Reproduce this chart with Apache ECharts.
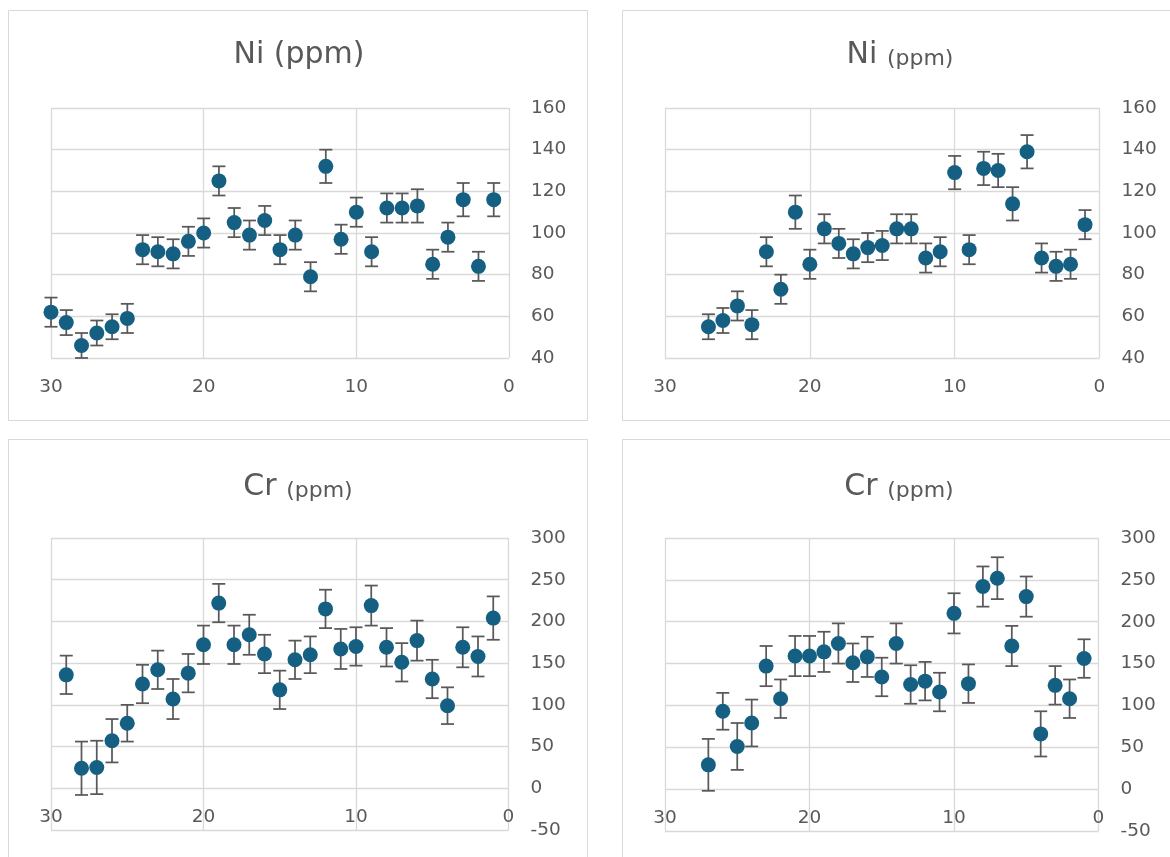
<!DOCTYPE html>
<html><head><meta charset="utf-8">
<script src="https://cdn.jsdelivr.net/npm/echarts@6/dist/echarts.min.js"></script>
<style>html,body{margin:0;padding:0;background:#fff}#c{width:1170px;height:857px}</style>
</head><body><div id="c"></div>
<script>
// ---- data ----
const depthTicks = [30, 20, 10, 0];
const niYTicks = [40, 60, 80, 100, 120, 140, 160];
const crYTicks = [-50, 0, 50, 100, 150, 200, 250, 300];

const niA_depth = [30,29,28,27,26,25,24,23,22,21,20,19,18,17,16,15,14,13,12,11,10,9,8,7,6,5,4,3,2,1];
const niA_value = [62,57,46,52,55,59,92,91,90,96,100,125,105,99,106,92,99,79,132,97,110,91,112,112,113,85,98,116,84,116];
const niA_error = [7,6,6,6,6,7,7,7,7,7,7,7,7,7,7,7,7,7,8,7,7,7,7,7,8,7,7,8,7,8];

const niB_depth = [27,26,25,24,23,22,21,20,19,18,17,16,15,14,13,12,11,10,9,8,7,6,5,4,3,2,1];
const niB_value = [55,58,65,56,91,73,110,85,102,95,90,93,94,102,102,88,91,129,92,131,130,114,139,88,84,85,104];
const niB_error = [6,6,7,7,7,7,8,7,7,7,7,7,7,7,7,7,7,8,7,8,8,8,8,7,7,7,7];

const crA_depth = [29,28,27,26,25,24,23,22,21,20,19,18,17,16,15,14,13,12,11,10,9,8,7,6,5,4,3,2,1];
const crA_value = [136,24,25,57,78,125,142,107,138,172,222,172,184,161,118,154,160,215,167,170,219,169,151,177,131,99,169,158,204];
const crA_error = [23,32,32,26,22,23,23,24,23,23,23,23,24,23,23,23,22,23,24,23,24,23,23,24,23,22,24,24,26];

const crB_depth = [27,26,25,24,23,22,21,20,19,18,17,16,15,14,13,12,11,10,9,8,7,6,5,4,3,2,1];
const crB_value = [29,93,51,79,147,108,159,159,164,174,151,158,134,174,125,129,116,210,126,242,252,171,230,66,124,108,156];
const crB_error = [31,22,28,28,24,23,24,24,24,24,23,24,23,24,23,23,23,24,23,24,25,24,24,27,23,23,23];

const titleBig = ['Ni', 'Ni', 'Cr', 'Cr'];
const titleSmall = ['(ppm)', '(ppm)', '(ppm)', '(ppm)'];

// ---- layout ----
const FONT = 'DejaVu Sans';
const TXT = '#595959';
const GRIDC = '#d9d9d9';
const MARK = '#156082';

const panels = [
  {depth: niA_depth, value: niA_value, error: niA_error, yTicks: niYTicks, xLabelMargin: 20,
   grid: {left: 51, top: 108, width: 458, height: 250}, box: [8.5, 10.5, 579, 410], title: [299, 52]},
  {depth: niB_depth, value: niB_value, error: niB_error, yTicks: niYTicks, xLabelMargin: 20,
   grid: {left: 665, top: 108, width: 434.5, height: 250}, box: [622.5, 10.5, 600, 410], title: [900, 52]},
  {depth: crA_depth, value: crA_value, error: crA_error, yTicks: crYTicks, xLabelMargin: -22,
   grid: {left: 51, top: 538, width: 457.5, height: 292}, box: [8.5, 439.5, 579, 450], title: [298, 484]},
  {depth: crB_depth, value: crB_value, error: crB_error, yTicks: crYTicks, xLabelMargin: -22,
   grid: {left: 665, top: 538, width: 433.5, height: 293}, box: [622.5, 439.5, 600, 450], title: [899, 484]}
];

function errRender(params, api) {
  const x = api.value(0), y = api.value(1), e = api.value(2);
  const t = api.coord([x, y + e]), b = api.coord([x, y - e]);
  const hw = 6.5;
  const st = {stroke: '#595959', lineWidth: 1.75};
  return {type: 'group', children: [
    {type: 'line', shape: {x1: t[0], y1: t[1], x2: b[0], y2: b[1]}, style: st},
    {type: 'line', shape: {x1: t[0] - hw, y1: t[1], x2: t[0] + hw, y2: t[1]}, style: st},
    {type: 'line', shape: {x1: b[0] - hw, y1: b[1], x2: b[0] + hw, y2: b[1]}, style: st}
  ]};
}

const grids = [], xAxes = [], yAxes = [], series = [], graphics = [];
panels.forEach((p, i) => {
  graphics.push({type: 'rect', shape: {x: p.box[0], y: p.box[1], width: p.box[2], height: p.box[3]},
    style: {fill: 'none', stroke: '#d9d9d9', lineWidth: 1}, z: -10});
  const bigSize = 30, smallSize = i === 0 ? 30 : 22;
  graphics.push({type: 'text', x: p.title[0], y: p.title[1], z: 10,
    style: {text: '{a|' + titleBig[i] + ' }{b|' + titleSmall[i] + '}', align: 'center', verticalAlign: 'middle',
      rich: {
        a: {fontSize: bigSize, fontFamily: FONT, fill: TXT, color: TXT, lineHeight: bigSize * 1.2, verticalAlign: 'bottom'},
        b: {fontSize: smallSize, fontFamily: FONT, fill: TXT, color: TXT, lineHeight: smallSize * 1.2, verticalAlign: 'bottom'}
      }}});
  grids.push(Object.assign({containLabel: false, outerBoundsMode: 'none'}, p.grid));
  xAxes.push({type: 'value', gridIndex: i, inverse: true, position: 'bottom',
    min: depthTicks[depthTicks.length - 1], max: depthTicks[0], interval: depthTicks[0] - depthTicks[1],
    axisLine: {show: false, onZero: false}, axisTick: {show: false},
    splitLine: {show: true, lineStyle: {color: GRIDC, width: 1.3}},
    axisLabel: {margin: p.xLabelMargin, fontSize: 18.5, color: TXT, fontFamily: FONT, showMinLabel: true, showMaxLabel: true}});
  yAxes.push({type: 'value', gridIndex: i, position: 'right',
    min: p.yTicks[0], max: p.yTicks[p.yTicks.length - 1], interval: p.yTicks[1] - p.yTicks[0],
    axisLine: {show: false}, axisTick: {show: false},
    splitLine: {show: true, lineStyle: {color: GRIDC, width: 1.3}},
    axisLabel: {margin: 22, align: 'left', fontSize: 18.5, color: TXT, fontFamily: FONT, showMinLabel: true, showMaxLabel: true}});
  const pts = p.depth.map((d, k) => [d, p.value[k], p.error[k]]);
  series.push({type: 'custom', xAxisIndex: i, yAxisIndex: i, renderItem: errRender,
    data: pts, encode: {x: 0, y: 1}, z: 2, silent: true});
  series.push({type: 'scatter', xAxisIndex: i, yAxisIndex: i, symbol: 'circle', symbolSize: 15,
    itemStyle: {color: MARK, opacity: 1}, data: pts.map(q => [q[0], q[1]]), z: 3, clip: false, silent: true});
});

const chart = echarts.init(document.getElementById('c'), null, {renderer: 'canvas'});
chart.setOption({
  animation: false,
  backgroundColor: '#ffffff',
  grid: grids, xAxis: xAxes, yAxis: yAxes, series: series, graphic: graphics
});
</script></body></html>
